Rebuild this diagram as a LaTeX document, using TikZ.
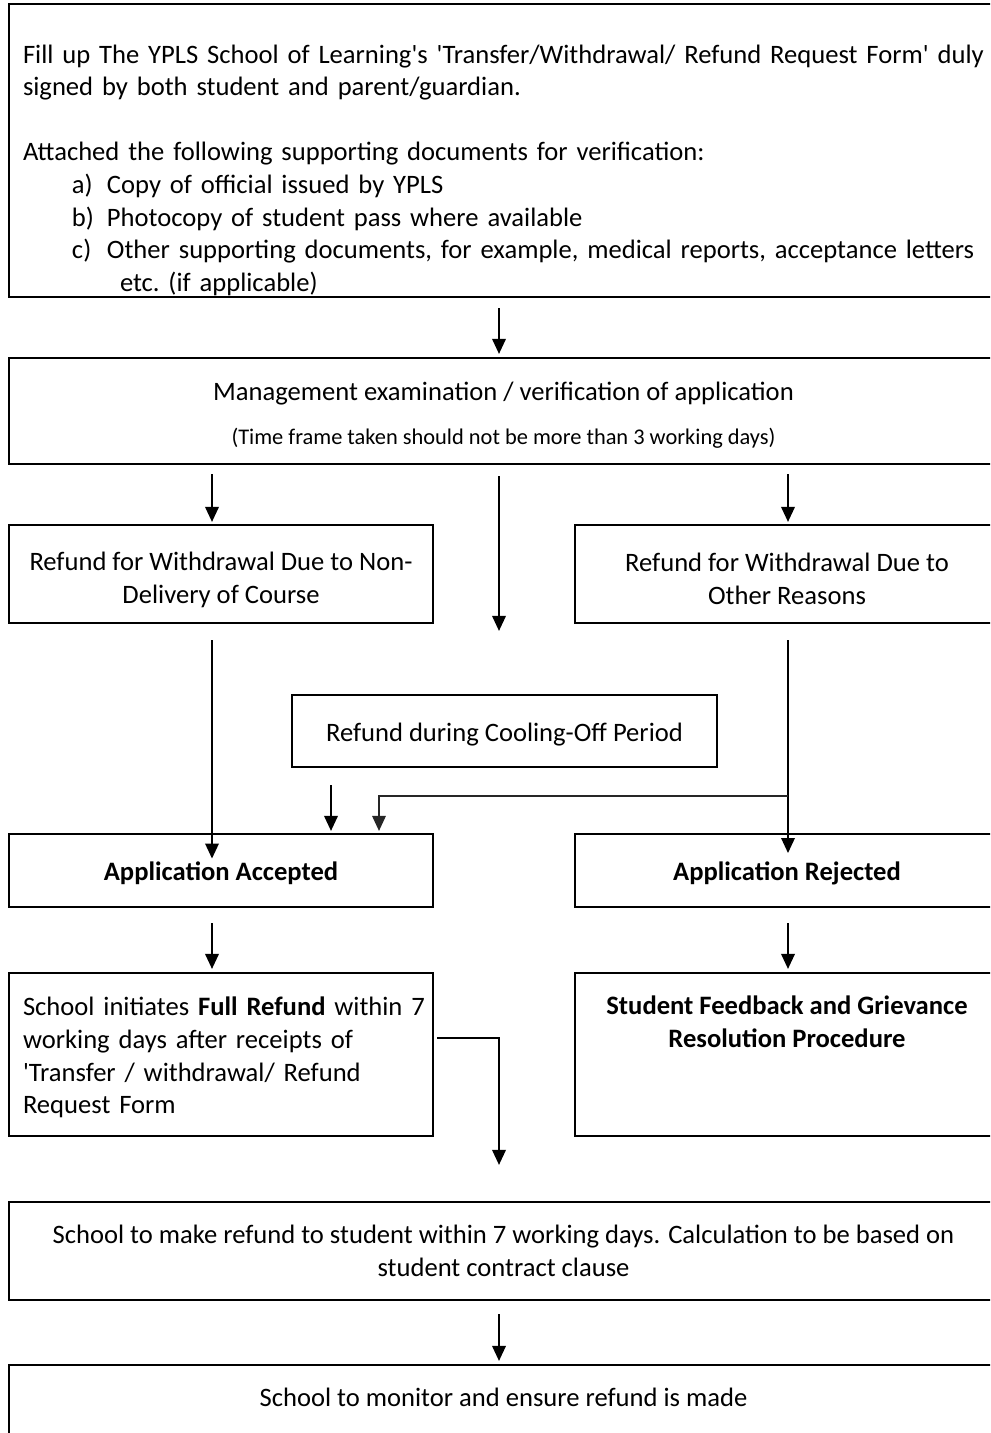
\documentclass[tikz,border=0pt]{standalone}
\usepackage{fontspec}
\setmainfont{Carlito}[Ligatures=TeXOff]
\usetikzlibrary{arrows.meta}

\newcommand{\notefont}{\fontsize{11.2}{13.5}\selectfont}

\begin{document}
\begin{tikzpicture}[x=0.5pt,y=-0.5pt,
    box/.style={draw, line width=1.1pt, inner sep=0pt, align=center,
        font=\fontsize{13.3}{16.3}\selectfont,
        execute at begin node=\rule{0pt}{12.5pt}},
    arr/.style={-{Triangle[length=7.5pt,width=6.8pt]}, line width=0.8pt},
    ]
    \useasboundingbox (0,0) rectangle (990,1433);
    \clip (0,0) rectangle (990,1433);
    \fill[white] (0,0) rectangle (990,1433);

    % columns of the connectors
    \coordinate (lcol) at (212,0);
    \coordinate (mcol) at (499,0);
    \coordinate (rcol) at (788,0);
    \coordinate (ccol) at (331,0);
    \coordinate (kcol) at (379,0);
    \coordinate (split) at (788,796);

    \node[box, minimum width=494.5pt, minimum height=146.5pt, text width=480.5pt, align=left] (form) at (503.5,150.5) {%
        \\
        \makebox[480.5pt][s]{Fill up The YPLS School of Learning's 'Transfer/Withdrawal/ Refund Request Form' duly}\\
        signed by both student and parent/guardian.\\
        \strut\\
        Attached the following supporting documents for verification:\\
        \hspace*{24.5pt}\makebox[17.5pt][l]{a)}Copy of official issued by YPLS\\
        \hspace*{24.5pt}\makebox[17.5pt][l]{b)}Photocopy of student pass where available\\
        \hspace*{24.5pt}\makebox[17.5pt][l]{c)}\makebox[437.5pt][s]{Other supporting documents, for example, medical reports, acceptance letters}\\
        \hspace*{48.5pt}etc.\ (if applicable)};

    \node[box, minimum width=494.5pt, minimum height=53pt] (check) at (503.5,411)
        {\rule{0pt}{13.5pt}Management examination / verification of application\\[5.5pt]{\notefont (Time frame taken should not be more than 3 working days)}};

    \node[box, minimum width=212pt, minimum height=49pt] (nondel) at (221,574) {\rule{0pt}{15pt}Refund for Withdrawal Due to Non-\\Delivery of Course};
    \node[box, minimum width=212pt, minimum height=49pt] (other) at (787,574) {\rule{0pt}{14pt}Refund for Withdrawal Due to\\Other Reasons};

    \node[box, minimum width=212.5pt, minimum height=36pt] (cool) at (504.5,731) {Refund during Cooling-Off Period};

    \node[box, minimum width=212pt, minimum height=36.5pt] (acc) at (221,870.5) {\bfseries Application Accepted};
    \node[box, minimum width=212pt, minimum height=36.5pt] (rej) at (787,870.5) {\bfseries Application Rejected};

    \node[box, minimum width=212pt, minimum height=81.5pt, text width=198pt, align=left] (full) at (221,1054.5)
        {\mbox{School initiates \textbf{Full Refund} within 7}\\working days after receipts of\\'Transfer / withdrawal/ Refund\\Request Form};
    \node[box, minimum width=212pt, minimum height=81.5pt] (griev) at (787,1054.5)
        {\bfseries Student Feedback and Grievance\\\bfseries Resolution Procedure\\\mbox{}\\\mbox{}};

    \node[box, minimum width=494.5pt, minimum height=49pt] (pay) at (503.5,1251)
        {School to make refund to student within 7 working days. Calculation to be based on\\student contract clause};
    \node[box, minimum width=494.5pt, minimum height=49pt] (mon) at (503.5,1414)
        {School to monitor and ensure refund is made\\\mbox{}};

    \draw[arr, shorten <=5pt, shorten >=1.5pt] (form.south -| mcol) -- (check.north -| mcol);
    \foreach \col/\dst in {lcol/nondel, rcol/other}
        \draw[arr, shorten <=4.5pt, shorten >=1pt] (check.south -| \col) -- (\dst.north -| \col);
    \draw[arr, shorten <=5.5pt, shorten >=31.5pt] (check.south -| mcol) -- (cool.north -| mcol);

    \draw[arr, shorten <=8pt, shorten >=6pt] (nondel.south -| lcol) -- (acc.center -| lcol);
    \draw[arr, shorten <=8pt, shorten >=8.75pt] (other.south -| rcol) -- (rej.center -| rcol);
    \draw[arr, shorten <=8.5pt, shorten >=1pt] (cool.south -| ccol) -- (acc.north -| ccol);
    \draw[arr, line width=0.7pt, black!85, shorten >=1pt] (split) -| (acc.north -| kcol);

    \foreach \src/\dst/\col in {acc/full/lcol, rej/griev/rcol}
        \draw[arr, shorten <=7.5pt, shorten >=1.5pt] (\src.south -| \col) -- (\dst.north -| \col);

    \draw[arr, shorten <=1.5pt, shorten >=18pt] ([yshift=8.25pt]full.east) -| (pay.north -| mcol);
    \draw[arr, shorten <=6.5pt, shorten >=1.5pt] (pay.south -| mcol) -- (mon.north -| mcol);
\end{tikzpicture}
\end{document}
